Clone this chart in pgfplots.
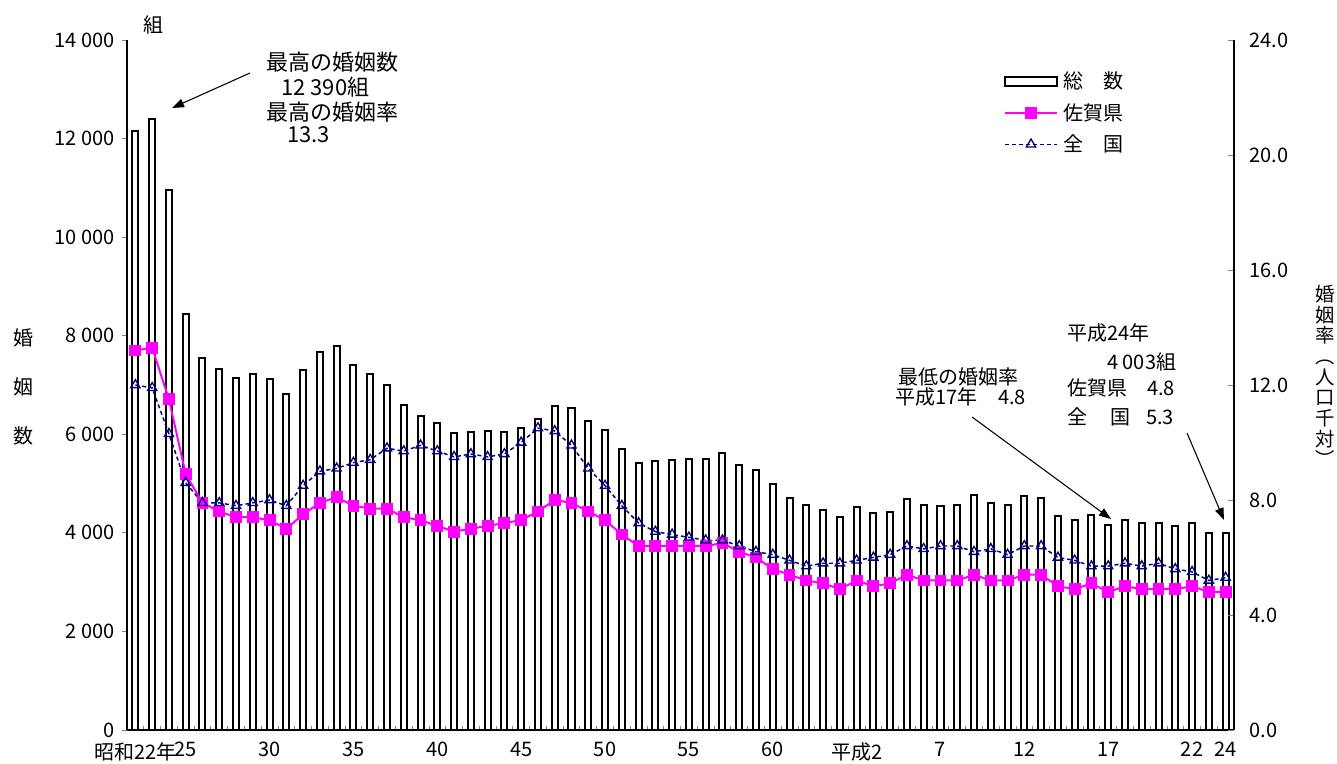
\documentclass[border=0pt]{standalone}
\usepackage{fontspec}
\setmainfont{Noto Sans CJK JP}
\usepackage{pgfplots}
\pgfplotsset{compat=1.18}
\usepackage{pgfplotstable}
\usetikzlibrary{arrows.meta}
\newcommand{\fs}[1]{\fontsize{#1pt}{#1pt}\selectfont}
\definecolor{sagac}{RGB}{255,0,255}
\definecolor{natc}{RGB}{0,0,128}
\pgfplotsset{
  barleg/.style={legend image code/.code={\draw[##1] (0pt,-3.2pt) rectangle (39pt,3.2pt);}},
  lineleg/.style={legend image code/.code={\draw[mark repeat=2,mark phase=2,##1] plot coordinates {(0pt,0pt) (19.5pt,0pt) (39pt,0pt)};}},
}
\pgfplotstableread{
idx count saga nat
0 12150 13.2 12.0
1 12390 13.3 11.9
2 10950 11.5 10.3
3 8450 8.9 8.6
4 7550 7.9 7.9
5 7320 7.6 7.9
6 7150 7.4 7.8
7 7230 7.4 7.9
8 7130 7.3 8.0
9 6820 7.0 7.8
10 7300 7.5 8.5
11 7670 7.9 9.0
12 7790 8.1 9.1
13 7410 7.8 9.3
14 7220 7.7 9.4
15 7010 7.7 9.8
16 6600 7.4 9.7
17 6380 7.3 9.9
18 6220 7.1 9.7
19 6020 6.9 9.5
20 6050 7.0 9.6
21 6070 7.1 9.5
22 6050 7.2 9.6
23 6120 7.3 10.0
24 6320 7.6 10.5
25 6570 8.0 10.4
26 6530 7.9 9.9
27 6270 7.6 9.1
28 6080 7.3 8.5
29 5700 6.8 7.8
30 5420 6.4 7.2
31 5450 6.4 6.9
32 5480 6.4 6.8
33 5500 6.4 6.7
34 5490 6.4 6.6
35 5630 6.5 6.6
36 5370 6.2 6.4
37 5280 6.0 6.2
38 5000 5.6 6.1
39 4710 5.4 5.9
40 4560 5.2 5.7
41 4460 5.1 5.8
42 4320 4.9 5.8
43 4530 5.2 5.9
44 4400 5.0 6.0
45 4420 5.1 6.1
46 4690 5.4 6.4
47 4570 5.2 6.3
48 4540 5.2 6.4
49 4570 5.2 6.4
50 4760 5.4 6.2
51 4600 5.2 6.3
52 4570 5.2 6.1
53 4740 5.4 6.4
54 4710 5.4 6.4
55 4340 5.0 6.0
56 4260 4.9 5.9
57 4370 5.1 5.7
58 4150 4.8 5.7
59 4260 5.0 5.8
60 4210 4.9 5.7
61 4200 4.9 5.8
62 4130 4.9 5.6
63 4200 5.0 5.5
64 4000 4.8 5.2
65 4003 4.8 5.3
}\datatable
\begin{document}
\begin{tikzpicture}
\path[use as bounding box] (0,0) rectangle (1002.75pt,572.25pt);
\begin{axis}[
  at={(95.25pt,24.75pt)}, anchor=south west,
  width=830.25pt, height=517.5pt, scale only axis,
  xmin=-0.5, xmax=65.5, ymin=0, ymax=14000,
  scaled y ticks=false,
  axis y line*=left, axis x line*=bottom,
  axis line style={black, line width=0.8pt},
  ytick={0,2000,...,14000},
  yticklabels={0,2 000,4 000,6 000,8 000,10 000,12 000,14 000},
  xtick={0,3,8,13,18,23,28,33,38,43,48,53,58,63,65},
  xticklabels={昭和22年,25,30,35,40,45,50,55,60,平成2,7,12,17,22,24},
  minor xtick={-0.5,0.5,...,65.5},
  tick align=outside,
  major tick length=3.75pt,
  minor tick length=-3pt,
  every major x tick/.style={draw=none},
  ytick style={gray, line width=0.6pt},
  minor tick style={gray, line width=0.6pt},
  tick label style={font=\fs{15}},
  yticklabel style={xshift=-2pt},
  xticklabel style={yshift=-2pt},
  ybar, bar width=0.36,
]
\addplot[draw=black, fill=white, line width=1.5pt] table[x=idx, y=count] {\datatable};
\end{axis}
\begin{axis}[
  at={(95.25pt,24.75pt)}, anchor=south west,
  width=830.25pt, height=517.5pt, scale only axis,
  xmin=-0.5, xmax=65.5, ymin=0, ymax=24,
  axis y line*=right, axis x line=none,
  axis line style={black, line width=0.8pt},
  ytick={0,4,...,24},
  yticklabels={0.0,4.0,8.0,12.0,16.0,20.0,24.0},
  tick align=inside, major tick length=4.5pt,
  ytick style={gray, line width=0.6pt},
  tick label style={font=\fs{15}},
  yticklabel style={xshift=8pt},
  legend cell align=left,
  lineleg,
  legend style={draw=none, fill=none, inner sep=0pt, row sep=7.5pt, column sep=3pt,
    font=\fs{15}, nodes={inner sep=1pt},
    at={(0.792,0.956)}, anchor=north west},
]
\addlegendimage{draw=black, fill=white, line width=1.5pt, barleg}
\addlegendentry{総　数}
\addplot[sagac, line width=1.5pt, mark=square*, mark size=3.7pt, mark options={solid, fill=sagac, draw=sagac}] table[x=idx, y=saga] {\datatable};
\addlegendentry{佐賀県}
\addplot[natc, line width=1.1pt, dash pattern=on 3pt off 2.2pt, mark=triangle, mark size=4pt, mark options={solid, fill=white, line width=1pt}] table[x=idx, y=nat] {\datatable};
\addlegendentry{全　国}
\end{axis}
\begin{scope}[x=0.75pt,y=-0.75pt,yshift=572.25pt]
\node[font=\fs{15}, inner sep=0pt] at (153,25) {組};
\node[font=\fontsize{15pt}{37pt}\selectfont, inner sep=0pt, align=center, anchor=north] at (23,328) {婚\\姻\\数};
\node[font=\fontsize{14.5pt}{15.5pt}\selectfont, inner sep=0pt, align=center, anchor=north] at (1325,285) {婚\\姻\\率\\︵\\人\\口\\千\\対\\︶};
\begin{scope}[every node/.style={anchor=west, inner sep=0pt, font=\fs{16.5}}]
\node at (266,62) {最高の婚姻数};
\node at (281,87) {12 390組};
\node at (266,112) {最高の婚姻率};
\node at (287,135) {13.3};
\end{scope}
\begin{scope}[every node/.style={anchor=west, inner sep=0pt, font=\fs{15}}]
\node at (898,377) {最低の婚姻率};
\node at (895,397) {平成17年};
\node at (998,397) {4.8};
\node at (1067,333) {平成24年};
\node at (1107,362) {4 003組};
\node at (1067,388) {佐賀県};
\node at (1147,388) {4.8};
\node at (1067,417) {全};
\node at (1110,417) {国};
\node at (1146,417) {5.3};
\end{scope}
\begin{scope}[line width=0.8pt, -{Triangle[length=9pt,width=6.5pt]}]
\draw (250,73) -- (172,108);
\draw (972,417) -- (1111,519);
\draw (1187,433) -- (1224,520);
\end{scope}
\end{scope}
\end{tikzpicture}
\end{document}
